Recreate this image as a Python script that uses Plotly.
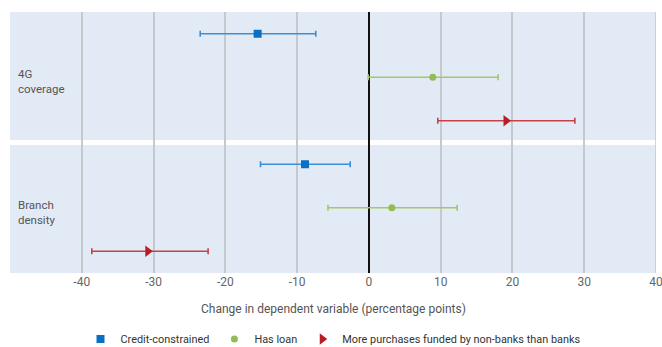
import plotly.graph_objects as go

series_names = ["Credit-constrained", "Has loan", "More purchases funded by non-banks than banks"]
groups = ["4G coverage", "Branch density"]

# estimates and confidence bounds, per series: [4G coverage, Branch density]
credit_est = [-15.5, -8.9]
credit_lo = [-23.5, -15.1]
credit_hi = [-7.4, -2.6]

loan_est = [8.9, 3.2]
loan_lo = [-0.1, -5.7]
loan_hi = [18.0, 12.3]

nonbank_est = [19.1, -30.8]
nonbank_lo = [9.6, -38.6]
nonbank_hi = [28.7, -22.4]

tick_vals = [-50, -40, -30, -20, -10, 0, 10, 20, 30, 40]
tick_text = ["", "-40", "-30", "-20", "-10", "0", "10", "20", "30", "40"]

FONT = "Roboto, sans-serif"

styles = [
    dict(marker=dict(symbol="square", size=8, color="#0A6FC2"), ecolor="#3C8FD6"),
    dict(marker=dict(symbol="circle", size=7, color="#93BC52"), ecolor="#A3C86A"),
    dict(marker=dict(symbol="triangle-right", size=10, color="#B81C25"), ecolor="#C6424A"),
]
data = [(credit_est, credit_lo, credit_hi), (loan_est, loan_lo, loan_hi), (nonbank_est, nonbank_lo, nonbank_hi)]

fig = go.Figure()
for si, (name, st, (est, lo, hi)) in enumerate(zip(series_names, styles, data)):
    ys = [gi * 3 + si for gi in range(len(groups))]
    fig.add_trace(go.Scatter(
        x=est, y=ys, mode="markers", name=name, marker=st["marker"],
        error_x=dict(type="data", symmetric=False,
                     array=[h - e for h, e in zip(hi, est)],
                     arrayminus=[e - l for e, l in zip(est, lo)],
                     color=st["ecolor"], thickness=1.6, width=3),
    ))

# white separator between groups
fig.add_shape(type="line", xref="paper", x0=0, x1=1, yref="y", y0=2.5, y1=2.5,
              line=dict(color="white", width=5), layer="below")
# right-edge grid line at the range end
fig.add_shape(type="line", xref="x", x0=40, x1=40, yref="paper", y0=0, y1=1,
              line=dict(color="#C5C9CE", width=1.5), layer="below")

for gi, g in enumerate(groups):
    fig.add_annotation(x=-49.1, y=gi * 3 + 1.1, xref="x", yref="y", xanchor="left",
                       text=g.replace(" ", "<br>"), showarrow=False, align="left",
                       font=dict(family=FONT, size=11.5, color="#555555"))

fig.add_annotation(x=0.5, y=-0.138, xref="paper", yref="paper", yanchor="middle",
                   text="Change in dependent variable (percentage points)", showarrow=False,
                   font=dict(family=FONT, size=12, color="#555555"))

fig.update_layout(
    width=662, height=347,
    margin=dict(l=10, r=6, t=12, b=74, autoexpand=False),
    paper_bgcolor="white", plot_bgcolor="#E2EAF5",
    showlegend=True,
    legend=dict(orientation="h", x=0.5, xanchor="center", y=-0.253, yanchor="middle",
                font=dict(family=FONT, size=10.9, color="#333333"),
                itemwidth=30, tracegroupgap=0),
    xaxis=dict(range=[-50, 40.001], tickvals=tick_vals, ticktext=tick_text,
               showgrid=True, gridcolor="#C5C9CE", gridwidth=1.5,
               zeroline=True, zerolinecolor="#111111", zerolinewidth=1.5,
               tickfont=dict(family=FONT, size=12, color="#666666"),
               ticklabeloverflow="allow",
               ticks="", showline=False, automargin=False),
    yaxis=dict(range=[5.5, -0.5], showticklabels=False, showgrid=False, zeroline=False,
               showline=False, automargin=False),
)

# remove the browser's default page margin so the figure fills the window exactly
fig.write_html("out.html", config={"displayModeBar": False},
               post_script="document.body.style.margin='0';document.body.style.overflow='hidden';")
